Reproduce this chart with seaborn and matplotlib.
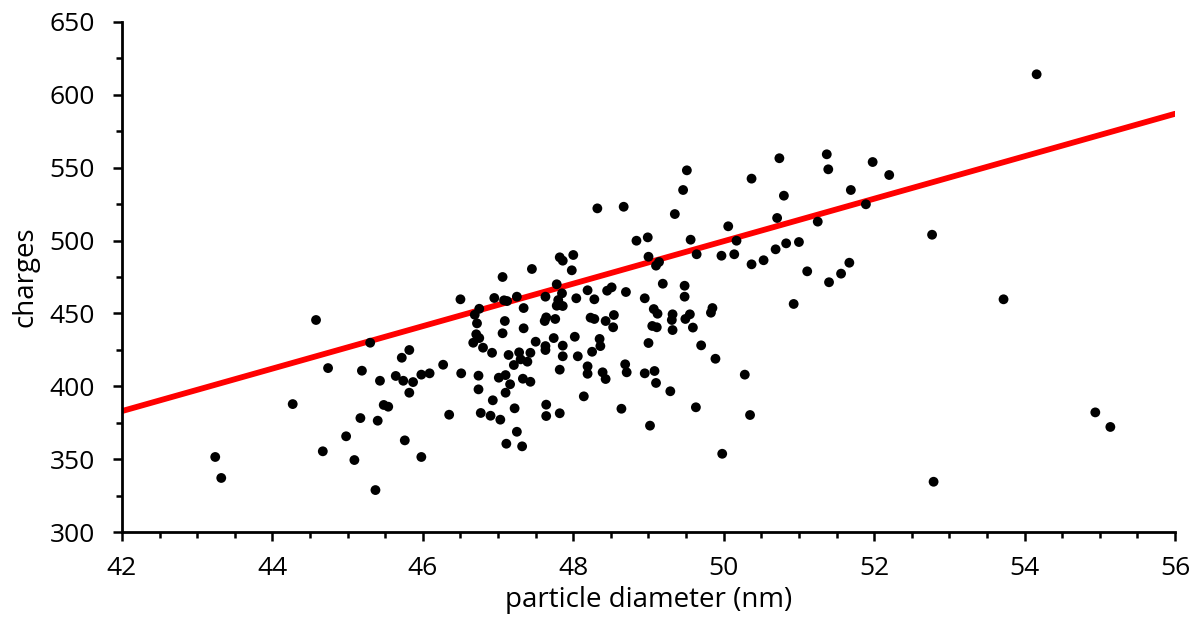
import matplotlib
matplotlib.use("Agg")
import matplotlib.pyplot as plt
from matplotlib.ticker import MultipleLocator
import seaborn as sns
import pandas as pd

diameter_nm = [
    44.58, 45.30, 45.82, 45.72, 44.74, 45.19, 46.27, 45.43, 45.64, 45.74,
    45.87, 45.98, 46.09, 45.82, 44.27, 45.48, 45.54, 46.35, 45.17, 45.40,
    44.98, 45.76, 44.67, 45.09, 45.98, 43.24, 43.32, 45.37,
    47.82, 47.86, 48.00, 47.98, 47.45, 47.06, 47.78, 46.50, 46.95, 47.08,
    47.12, 47.25, 47.34, 46.75, 46.69, 46.72, 47.63, 47.85, 47.80, 47.82,
    47.78, 47.86, 48.04, 48.19, 48.28, 48.45, 48.51, 47.09, 47.64, 47.62,
    47.76, 48.23, 48.28, 48.43, 48.54, 48.53, 47.06, 47.34, 46.71, 46.75,
    46.67, 46.80, 46.92, 47.14, 47.28, 47.30, 47.39, 47.43, 47.21, 47.50,
    47.63, 47.63, 47.74, 47.86, 47.86, 48.02, 48.06, 48.25, 48.35, 48.36,
    48.19, 48.19, 48.39, 48.43, 46.51, 46.74, 46.74, 47.01, 47.10, 47.16,
    47.10, 47.33, 47.43, 47.82, 46.93, 47.22, 46.77, 46.90, 47.03, 47.64,
    47.64, 47.82, 48.14, 47.25, 47.11, 47.32, 48.32, 48.67,
    50.74, 49.51, 50.37, 49.46, 50.80, 49.35, 50.71, 50.06, 51.25, 48.84,
    48.99, 49.56, 50.17, 49.00, 49.14, 49.10, 49.64, 49.97, 50.14, 50.37,
    50.53, 50.69, 50.83, 51.00, 51.11, 50.93, 48.70, 49.19, 49.48, 48.95,
    49.48, 49.07, 49.12, 49.32, 49.31, 49.55, 49.49, 49.85, 49.83, 49.05,
    49.11, 49.32, 49.59, 49.00, 49.70, 49.89, 48.69, 48.71, 48.95, 49.08,
    49.10, 49.29, 50.28, 49.63, 50.35, 48.64, 49.02, 49.98,
    51.37, 51.39, 51.98, 52.20, 51.69, 51.89, 51.67, 51.56, 51.40,
    54.16, 52.77, 53.72, 54.94, 55.14, 52.79,
]

charges = [
    445.5, 429.9, 424.9, 419.6, 412.5, 410.7, 414.8, 403.8, 407.1, 403.8,
    402.9, 408.0, 408.9, 395.6, 387.8, 387.2, 386.0, 380.5, 378.2, 376.4,
    365.7, 362.9, 355.4, 349.4, 351.5, 351.5, 337.1, 328.8,
    488.5, 486.2, 490.1, 479.6, 480.5, 475.0, 470.0, 459.7, 460.6, 459.0,
    458.5, 461.5, 453.7, 453.2, 449.1, 443.2, 461.5, 463.8, 459.2, 455.8,
    455.3, 455.1, 460.4, 465.9, 459.7, 465.6, 467.9, 444.8, 447.3, 444.8,
    446.2, 447.1, 446.2, 444.8, 448.9, 440.5, 436.4, 439.8, 435.7, 433.1,
    429.9, 426.5, 423.0, 421.5, 423.3, 418.5, 416.9, 423.0, 414.6, 430.6,
    427.6, 424.9, 433.1, 427.9, 420.6, 434.0, 420.6, 423.7, 432.5, 427.6,
    413.7, 408.6, 409.6, 405.0, 408.9, 407.3, 397.9, 405.9, 407.7, 401.4,
    395.6, 405.2, 403.1, 411.4, 390.4, 384.9, 381.7, 379.8, 377.1, 387.4,
    379.6, 381.5, 393.1, 368.8, 360.6, 358.8, 522.1, 523.2,
    556.5, 548.2, 542.5, 534.7, 530.8, 518.2, 515.5, 509.8, 513.0, 499.9,
    502.2, 500.6, 499.9, 488.9, 485.3, 482.8, 490.6, 489.6, 490.6, 483.7,
    486.5, 494.0, 498.1, 499.0, 478.9, 456.5, 464.7, 470.4, 469.0, 460.4,
    461.5, 453.0, 449.8, 449.4, 445.5, 449.4, 446.2, 453.7, 450.5, 441.4,
    440.5, 438.6, 440.3, 429.7, 428.1, 418.9, 415.1, 409.6, 408.9, 410.5,
    402.3, 396.6, 408.0, 385.6, 380.3, 384.6, 373.0, 353.7,
    559.2, 548.9, 553.9, 545.0, 534.7, 524.9, 484.8, 477.3, 471.4,
    614.1, 504.0, 459.7, 382.1, 372.1, 334.5,
]

fit_x = [42, 56]
fit_y = [383, 587]

x_ticks = [42, 44, 46, 48, 50, 52, 54, 56]
y_ticks = [300, 350, 400, 450, 500, 550, 600, 650]

sns.set_theme(style="ticks")
plt.rcParams["font.family"] = ["Open Sans", "DejaVu Sans"]

df = pd.DataFrame({"d": diameter_nm, "c": charges})
fit = pd.DataFrame({"d": fit_x, "c": fit_y})

fig = plt.figure(figsize=(11.91, 6.19), dpi=100)
ax = fig.add_axes([0.1024, 0.1405, 0.8842, 0.824])

sns.lineplot(data=fit, x="d", y="c", color="#ff0000", linewidth=4.2, ax=ax, zorder=2)
sns.scatterplot(data=df, x="d", y="c", color="black", s=50, edgecolor="none", ax=ax, zorder=3)

ax.set_xlim(42, 56)
ax.set_ylim(300, 650)
ax.set_xticks(x_ticks)
ax.set_yticks(y_ticks)
ax.set_xticklabels([str(v) for v in x_ticks], fontsize=19, color="black")
ax.set_yticklabels([str(v) for v in y_ticks], fontsize=19, color="black")
ax.xaxis.set_minor_locator(MultipleLocator(0.5))
ax.yaxis.set_minor_locator(MultipleLocator(25))
ax.tick_params(which="both", direction="out", width=1.8, color="black")
ax.tick_params(which="major", length=6.5)
ax.tick_params(which="minor", length=4.5)
ax.tick_params(axis="y", which="major", pad=13)
ax.tick_params(axis="x", which="major", pad=11)
for side in ["top", "right"]:
    ax.spines[side].set_visible(False)
for side in ["left", "bottom"]:
    ax.spines[side].set_linewidth(2.0)
    ax.spines[side].set_color("black")

ax.set_xlabel("particle diameter (nm)", fontsize=20, color="black", labelpad=3)
ax.set_ylabel("charges", fontsize=20, color="black", labelpad=7)

fig.savefig("out.png", dpi=100, facecolor="white")
